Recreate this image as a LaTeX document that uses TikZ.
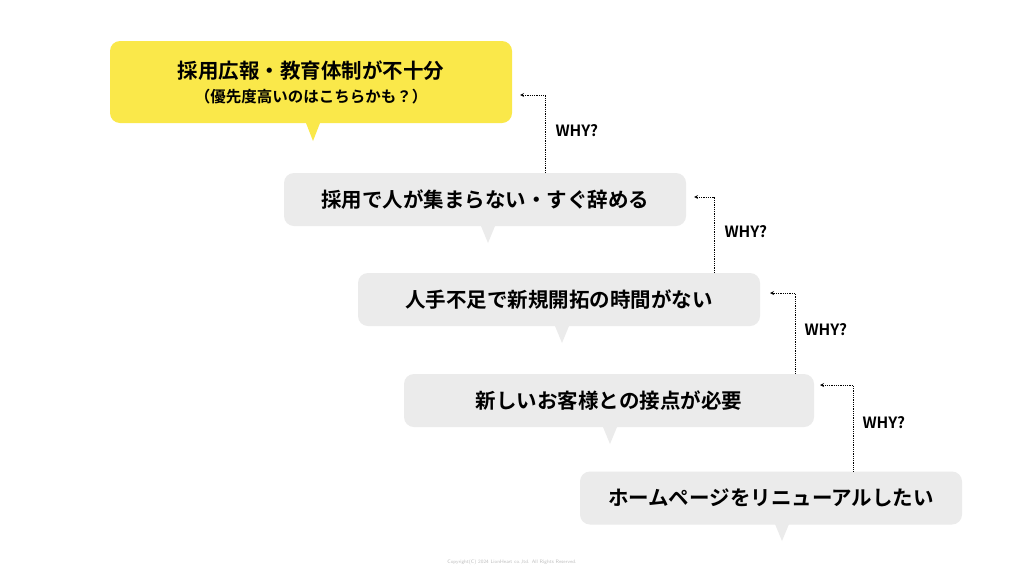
\documentclass[tikz,border=0pt]{standalone}
\usepackage{fontspec}
\newfontfamily\jp{Noto Sans CJK JP}[BoldFont={Noto Sans CJK JP Bold}]
\usetikzlibrary{positioning}
\definecolor{bubblegray}{HTML}{EBEBEB}
\definecolor{bubbleyellow}{HTML}{FAE84A}
\tikzset{
    bubble/.style={fill=bubblegray, rounded corners=10pt, minimum height=53pt,
        inner sep=0pt, font=\jp\bfseries\fontsize{20.5}{24}\selectfont},
    why/.style={font=\jp\bfseries\fontsize{15.5}{18}\selectfont, anchor=west},
    back/.style={densely dotted, thick, ->, >=stealth}
}
\begin{document}
\begin{tikzpicture}[x=1pt, y=-1pt]
    \useasboundingbox[fill=white] (0,0) rectangle (1024,576);

    \node[bubble, fill=bubbleyellow, minimum width=402pt, minimum height=82pt,
        align=center] (cause) at (311,82)
        {採用広報・教育体制が不十分\\[0pt]{\fontsize{15.5}{18}\selectfont（優先度高いのはこちらかも？）}};
    \node[bubble, minimum width=402pt] (hire) at (485,199.5) {採用で人が集まらない・すぐ辞める};
    \node[bubble, minimum width=402pt] (staff) at (559,299.5) {人手不足で新規開拓の時間がない};
    \node[bubble, minimum width=410pt] (contact) at (609,400.5) {新しいお客様との接点が必要};
    \node[bubble, minimum width=382pt] (web) at (771,498) {ホームページをリニューアルしたい};

    % tails
    \fill[bubbleyellow] (306,123) -- (320,123) -- (313,141) -- cycle;
    \fill[bubblegray] (481,226) -- (495,226) -- (488,243) -- cycle;
    \fill[bubblegray] (555,326) -- (569,326) -- (562,343) -- cycle;
    \fill[bubblegray] (603,427) -- (617,427) -- (610,444) -- cycle;
    \fill[bubblegray] (775,524) -- (789,524) -- (782,541) -- cycle;

    % why arrows
    \draw[back] (hire.north -| 545,0) |- (520,95);
    \draw[back] (staff.north -| 714,0) |- (694,197);
    \draw[back] (contact.north -| 795,0) |- (770,293);
    \draw[back] (web.north -| 853,0) |- (820,385);

    \node[why] (w1) at (552,131) {WHY?};
    \node[why] (w2) at (721,232) {WHY?};
    \node[why] (w3) at (801,330) {WHY?};
    \node[why] (w4) at (859,423) {WHY?};

    \node[text=gray!50, font=\sffamily\fontsize{5}{6}\selectfont] (copy) at (512,562)
        {Copyright(C) 2024 LionHeart co.,ltd. All Rights Reserved.};
\end{tikzpicture}
\end{document}
